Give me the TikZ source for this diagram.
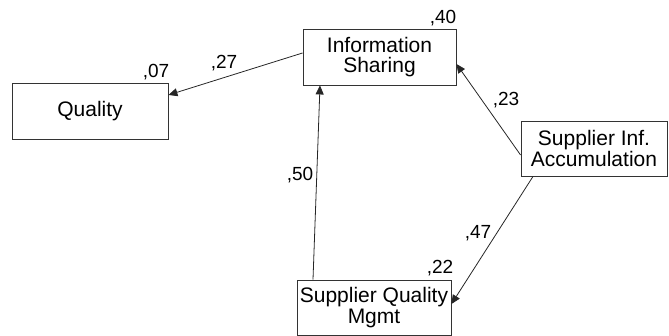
\documentclass[tikz,border=0pt]{standalone}
\usepackage{fontspec}
\setmainfont{Liberation Sans}
\usetikzlibrary{arrows.meta}
\begin{document}
\begin{tikzpicture}[x=1pt,y=1pt,
  box/.style={draw=black!80,line width=0.9pt,rectangle,inner sep=0pt,align=center,
    font=\fontsize{21}{20.8}\selectfont},
  conn/.style={draw=black!85,line width=0.8pt,-{Triangle[length=9pt,width=8pt]}},
  coef/.style={font=\fontsize{19}{20}\selectfont,inner sep=0pt}]
\useasboundingbox (0,0) rectangle (669,336);
\node[box,minimum width=156pt,minimum height=56pt] (q) at (90,225) {Quality};
\node[box,minimum width=153pt,minimum height=56pt] (is) at (379.5,279) {Information\\Sharing};
\node[box,minimum width=146pt,minimum height=55pt] (sia) at (594,187.5) {Supplier Inf.\\Accumulation};
\node[box,minimum width=154pt,minimum height=55pt] (sqm) at (374,28.5) {Supplier Quality\\Mgmt};
\draw[conn] ([yshift=4pt]is.west) -- ([yshift=16pt]q.east);
\draw[conn] ([xshift=-61pt]sqm.north) -- ([xshift=-59.5pt]is.south);
\draw[conn] ([yshift=-6.5pt]sia.west) -- ([yshift=-7pt]is.east);
\draw[conn] ([xshift=-61pt]sia.south) -- ([yshift=3.5pt]sqm.east);
\node[coef] (l07) at (156,264) {,07};
\node[coef] (l27) at (224,273) {,27};
\node[coef] (l40) at (443,318) {,40};
\node[coef] (l23) at (506,236) {,23};
\node[coef] (l50) at (300,161) {,50};
\node[coef] (l47) at (478,103) {,47};
\node[coef] (l22) at (440,68) {,22};
\end{tikzpicture}
\end{document}
